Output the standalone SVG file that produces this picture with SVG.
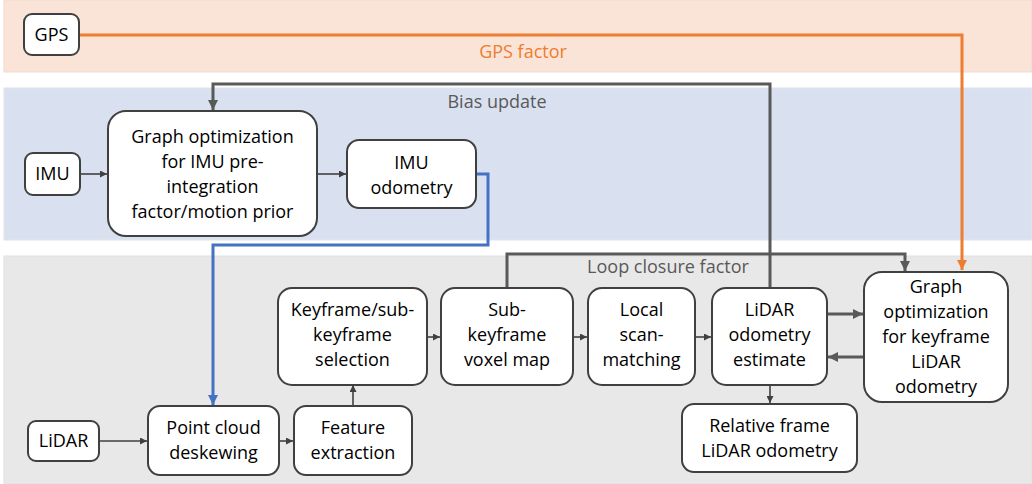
<svg xmlns="http://www.w3.org/2000/svg" width="1032" height="484" viewBox="0 0 1032 484">
  <style>
    .node rect { fill: #ffffff; stroke: #404040; stroke-width: 2; }
    .node text, .lbl { font-family: "Open Sans", "Noto Sans", sans-serif; font-size: 18px; text-anchor: middle; }
    .node text { fill: #000000; }
    .lbl { fill: #595959; }
    .gps-lbl { fill: #ED7D31; }
    .link { fill: none; stroke: #404040; stroke-width: 1.6; }
    .thick { fill: none; stroke: #595959; stroke-width: 3; }
    .gps { fill: none; stroke: #ED7D31; stroke-width: 3; }
    .imu { fill: none; stroke: #4472C4; stroke-width: 3; }
  </style>
  <defs>
    <marker id="ah" viewBox="0 0 10 10" refX="10" refY="5" markerWidth="7" markerHeight="7" markerUnits="userSpaceOnUse" orient="auto">
      <path d="M0,0 L10,5 L0,10 z" fill="#404040"/>
    </marker>
    <marker id="ahThick" viewBox="0 0 10 10" refX="10" refY="5" markerWidth="10" markerHeight="10" markerUnits="userSpaceOnUse" orient="auto">
      <path d="M0,0 L10,5 L0,10 z" fill="#595959"/>
    </marker>
    <marker id="ahGps" viewBox="0 0 10 10" refX="10" refY="5" markerWidth="10" markerHeight="10" markerUnits="userSpaceOnUse" orient="auto">
      <path d="M0,0 L10,5 L0,10 z" fill="#ED7D31"/>
    </marker>
    <marker id="ahImu" viewBox="0 0 10 10" refX="10" refY="5" markerWidth="10" markerHeight="10" markerUnits="userSpaceOnUse" orient="auto">
      <path d="M0,0 L10,5 L0,10 z" fill="#4472C4"/>
    </marker>
  </defs>

  <rect width="1032" height="484" fill="#ffffff"/>

  <!-- background bands -->
  <g id="bands">
    <rect x="4" y="0" width="1028" height="72" fill="#FAE4D7" stroke="#EEDBD0" stroke-width="1"/>
    <rect x="4" y="88" width="1028" height="152" fill="#D9E1F1" stroke="#E2E4EA" stroke-width="1"/>
    <rect x="4" y="256" width="1028" height="228" fill="#E8E8E8" stroke="#E0E0E0" stroke-width="1"/>
  </g>

  <!-- connectors -->
  <g id="connectors">
    <path class="gps" d="M79,35 H962 V270" marker-end="url(#ahGps)"/>
    <path class="thick" d="M770,288 V84 H213 V110" marker-end="url(#ahThick)"/>
    <path class="imu" d="M476,174 H488 V245 H213 V405" marker-end="url(#ahImu)"/>
    <path class="thick" d="M507,288 V254 H905 V271" marker-end="url(#ahThick)"/>
    <path class="link" d="M80,174 H107" marker-end="url(#ah)"/>
    <path class="link" d="M317,174 H346" marker-end="url(#ah)"/>
    <path class="link" d="M99,441 H147" marker-end="url(#ah)"/>
    <path class="link" d="M279,441 H293" marker-end="url(#ah)"/>
    <path class="link" d="M353,406 V385" marker-end="url(#ah)"/>
    <path class="link" d="M427,337 H440" marker-end="url(#ah)"/>
    <path class="link" d="M573,337 H587" marker-end="url(#ah)"/>
    <path class="link" d="M695,337 H711" marker-end="url(#ah)"/>
    <path class="thick" d="M827,314 H863" marker-end="url(#ahThick)"/>
    <path class="thick" d="M864,357 H828" marker-end="url(#ahThick)"/>
    <path class="link" d="M770,385 V403" marker-end="url(#ah)"/>
    <text class="lbl gps-lbl" x="523" y="58">GPS factor</text>
    <text class="lbl" x="497" y="108">Bias update</text>
    <text class="lbl" x="668" y="273">Loop closure factor</text>
  </g>

  <!-- nodes -->
  <g id="gps" class="node">
    <rect x="24" y="14" width="55" height="41" rx="8"/>
    <text x="51.5" y="41">GPS</text>
  </g>
  <g id="imu" class="node">
    <rect x="25" y="153" width="55" height="42" rx="8"/>
    <text x="52.5" y="180">IMU</text>
  </g>
  <g id="imu-graph-opt" class="node">
    <rect x="108" y="111" width="209" height="125" rx="18"/>
    <text x="212.5" y="143">Graph optimization</text>
    <text x="212.5" y="168">for IMU pre-</text>
    <text x="212.5" y="193">integration</text>
    <text x="212.5" y="218">factor/motion prior</text>
  </g>
  <g id="imu-odometry" class="node">
    <rect x="347" y="140" width="129" height="68" rx="12"/>
    <text x="411.5" y="169">IMU</text>
    <text x="411.5" y="194">odometry</text>
  </g>
  <g id="lidar" class="node">
    <rect x="28" y="421" width="71" height="40" rx="8"/>
    <text x="63.5" y="447">LiDAR</text>
  </g>
  <g id="deskew" class="node">
    <rect x="148" y="406" width="131" height="69" rx="12"/>
    <text x="213.5" y="434">Point cloud</text>
    <text x="213.5" y="459">deskewing</text>
  </g>
  <g id="feature" class="node">
    <rect x="294" y="406" width="118" height="69" rx="12"/>
    <text x="353" y="434">Feature</text>
    <text x="353" y="459">extraction</text>
  </g>
  <g id="keyframe-select" class="node">
    <rect x="278" y="288" width="149" height="97" rx="14"/>
    <text x="352.5" y="316">Keyframe/sub-</text>
    <text x="352.5" y="341">keyframe</text>
    <text x="352.5" y="366">selection</text>
  </g>
  <g id="voxel-map" class="node">
    <rect x="441" y="288" width="132" height="97" rx="14"/>
    <text x="507" y="316">Sub-</text>
    <text x="507" y="341">keyframe</text>
    <text x="507" y="366">voxel map</text>
  </g>
  <g id="scan-match" class="node">
    <rect x="588" y="288" width="107" height="97" rx="14"/>
    <text x="641.5" y="316">Local</text>
    <text x="641.5" y="341">scan-</text>
    <text x="641.5" y="366">matching</text>
  </g>
  <g id="lidar-odom" class="node">
    <rect x="712" y="288" width="115" height="97" rx="14"/>
    <text x="769.5" y="316">LiDAR</text>
    <text x="769.5" y="341">odometry</text>
    <text x="769.5" y="366">estimate</text>
  </g>
  <g id="kf-graph-opt" class="node">
    <rect x="864" y="272" width="144" height="130" rx="18"/>
    <text x="936" y="293">Graph</text>
    <text x="936" y="318">optimization</text>
    <text x="936" y="343">for keyframe</text>
    <text x="936" y="368">LiDAR</text>
    <text x="936" y="393">odometry</text>
  </g>
  <g id="relative-odom" class="node">
    <rect x="682" y="404" width="175" height="68" rx="12"/>
    <text x="769.5" y="432">Relative frame</text>
    <text x="769.5" y="457">LiDAR odometry</text>
  </g>
</svg>
